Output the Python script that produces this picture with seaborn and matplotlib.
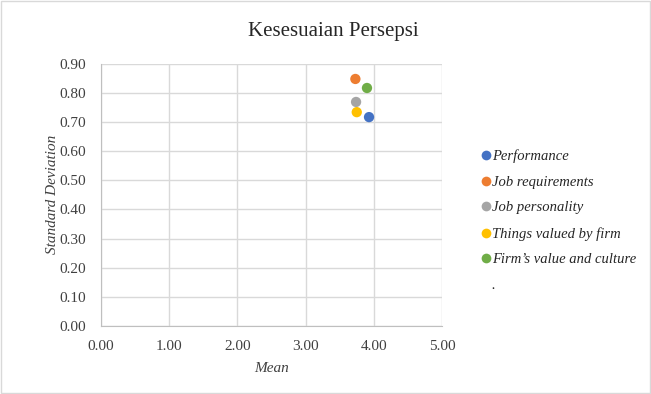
import pandas as pd
import matplotlib.pyplot as plt
import seaborn as sns
from matplotlib.lines import Line2D

# data
labels = ["Performance", "Job requirements", "Job personality",
          "Things valued by firm", "Firm\u2019s value and culture"]
mean = [3.93, 3.73, 3.74, 3.75, 3.90]
std_dev = [0.717, 0.848, 0.769, 0.734, 0.817]
colors = ["#4472C4", "#ED7D31", "#A5A5A5", "#FFC000", "#70AD47"]

df = pd.DataFrame({"Item": labels, "Mean": mean, "SD": std_dev})

sns.set_style("white")
plt.rcParams["font.family"] = ["Liberation Serif", "DejaVu Serif"]

fig = plt.figure(figsize=(6.51, 3.94), dpi=100)
ax = fig.add_axes([0.155, 0.173, 0.524, 0.665])

sns.scatterplot(data=df, x="Mean", y="SD", hue="Item", palette=colors,
                s=55, edgecolor="none", ax=ax, legend=False, zorder=3)

ax.set_xlim(0, 5)
ax.set_ylim(0, 0.9)
ax.set_xticks([0, 1, 2, 3, 4, 5])
ax.set_yticks([i / 10 for i in range(10)])
ax.set_xticklabels([f"{v:.2f}" for v in ax.get_xticks()])
ax.set_yticklabels([f"{v:.2f}" for v in ax.get_yticks()])
ax.tick_params(labelsize=11, colors="#404040", length=0)
ax.tick_params(axis="x", pad=10)
ax.tick_params(axis="y", pad=11)
ax.grid(True, color="#D9D9D9", linewidth=1)
for side in ["top", "right"]:
    ax.spines[side].set_visible(False)
for side in ["left", "bottom"]:
    ax.spines[side].set_color("#BFBFBF")

ax.set_xlabel("Mean", fontsize=11, style="italic", color="#404040", labelpad=7)
ax.set_ylabel("Standard Deviation", fontsize=11, style="italic", color="#404040", labelpad=0)
fig.suptitle("Kesesuaian Persepsi", fontsize=15, x=0.512, y=0.943, color="#262626")

handles = [Line2D([], [], marker="o", linestyle="", markersize=7, color=c,
                  markeredgewidth=0) for c in colors]
handles.append(Line2D([], [], linestyle="", marker=""))
leg = fig.legend(handles, labels + ["."], loc="center left",
                 bbox_to_anchor=(0.715, 0.44), frameon=False,
                 prop={"size": 10.5, "style": "italic"}, handletextpad=-0.1,
                 labelspacing=0.85, handlelength=1.0, labelcolor="#262626")

fig.patches.append(plt.Rectangle((0.002, 0.002), 0.996, 0.996, transform=fig.transFigure,
                                 fill=False, edgecolor="#D9D9D9", linewidth=1))

fig.savefig("out.png", dpi=100)
